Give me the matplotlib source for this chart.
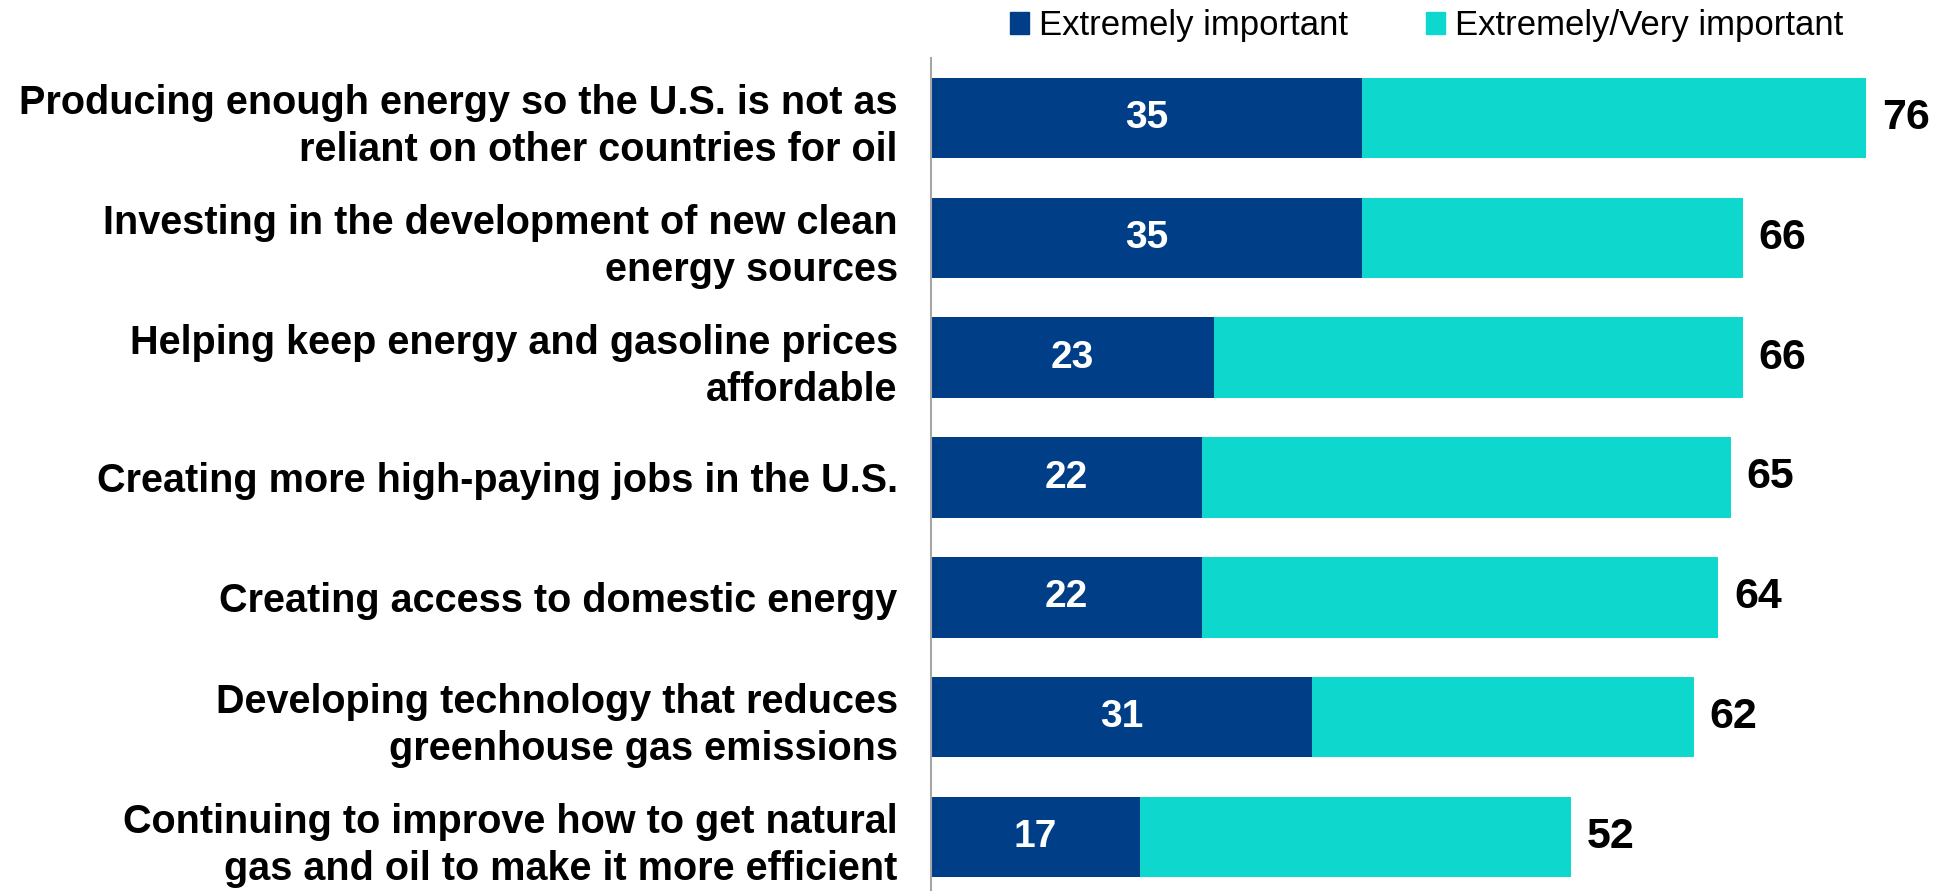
import matplotlib.pyplot as plt
from matplotlib.patches import Patch

categories = [
    "Producing enough energy so the U.S. is not as\nreliant on other countries for oil",
    "Investing in the development of new clean\nenergy sources",
    "Helping keep energy and gasoline prices\naffordable",
    "Creating more high-paying jobs in the U.S.",
    "Creating access to domestic energy",
    "Developing technology that reduces\ngreenhouse gas emissions",
    "Continuing to improve how to get natural\ngas and oil to make it more efficient",
]
extremely = [35, 35, 23, 22, 22, 31, 17]
extremely_very = [76, 66, 66, 65, 64, 62, 52]

DARK = "#003F87"
CYAN = "#0ED8CE"

fig = plt.figure(figsize=(19.36, 8.91), dpi=100)
ax = fig.add_axes([931 / 1936, -6 / 891, 1000 / 1936, 839 / 891])

y = list(range(len(categories)))
rest = [t - e for t, e in zip(extremely_very, extremely)]
ax.barh(y, extremely, height=0.67, color=DARK)
ax.barh(y, rest, left=extremely, height=0.67, color=CYAN)

for i in y:
    ax.text(extremely[i] / 2, i, str(extremely[i]), ha="center", va="center",
            color="white", fontsize=28, fontweight="bold", family="Liberation Sans")
    ax.text(extremely_very[i] + 1.3, i, str(extremely_very[i]), ha="left", va="center",
            color="black", fontsize=31, fontweight="bold", family="Liberation Sans")

ax.set_ylim(6.5, -0.5)
ax.set_xlim(0, 1000 / 12.3)
ax.set_yticks(y)
ax.set_yticklabels(categories, fontsize=28.5, fontweight="bold", family="Liberation Sans",
                   linespacing=1.3)
ax.tick_params(axis="y", length=0, pad=24)
ax.set_xticks([])
for s in ["top", "right", "bottom"]:
    ax.spines[s].set_visible(False)
ax.spines["left"].set_color("#A6A6A6")
ax.spines["left"].set_linewidth(1.5)

handles = [Patch(color=DARK, label="Extremely important"),
           Patch(color=CYAN, label="Extremely/Very important")]
fig.legend(handles=handles, loc="upper left", bbox_to_anchor=(993 / 1936, 1.009), ncol=2,
           frameon=False, prop={"family": "Liberation Sans", "size": 25}, borderpad=0,
           handlelength=0.53, handleheight=0.63, handletextpad=0.3, columnspacing=2.25)

fig.savefig("out.png", dpi=100)
